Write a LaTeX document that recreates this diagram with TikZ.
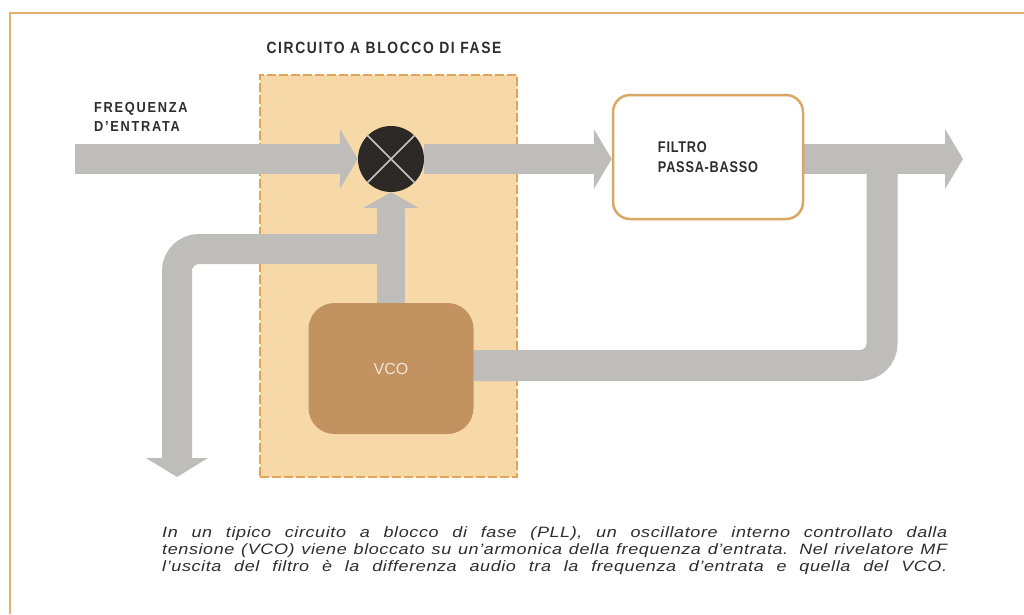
\documentclass[tikz,border=0pt]{standalone}
\usepackage{fontspec}
\setmainfont{Liberation Sans}
\newfontfamily\titlefont{Liberation Sans}[FakeStretch=0.85,LetterSpace=10]
\newfontfamily\lblfont{Liberation Sans}[FakeStretch=0.88,LetterSpace=12]
\newfontfamily\filtfont{Liberation Sans}[FakeStretch=0.82,LetterSpace=5]
\newfontfamily\capfont{Liberation Sans}[FakeStretch=1.2,LetterSpace=4]
\usetikzlibrary{arrows.meta,backgrounds}
\definecolor{grayband}{RGB}{190,189,186}
\definecolor{beige}{RGB}{247,217,168}
\definecolor{dashor}{RGB}{226,164,90}
\definecolor{vcobrown}{RGB}{194,146,96}
\definecolor{framec}{RGB}{226,176,112}
\definecolor{filtc}{RGB}{216,168,100}
\definecolor{darkc}{RGB}{43,40,38}
\definecolor{txtc}{RGB}{45,45,45}
\definecolor{xline}{RGB}{200,198,195}
\begin{document}
\begin{tikzpicture}[x=1pt,y=-1pt,
  band/.style={draw=grayband,line width=30pt},
  fatarrow/.style={band,-{Triangle[length=18pt,width=60pt,line width=0pt]}},
  lbl/.style={text=txtc,font=\lblfont\bfseries\fontsize{14.5}{19}\selectfont,inner sep=0pt},
  capline/.style={text=txtc,font=\capfont\itshape\fontsize{15}{17}\selectfont,inner sep=0pt,anchor=base west}]
\useasboundingbox (0,0) rectangle (1024,614);
% frame
\draw[framec,line width=2pt] (1024,13) -- (10,13) -- (10,614);
% nodes
\node[text=txtc,inner sep=0pt,anchor=base,font=\titlefont\bfseries\fontsize{16.3}{19}\selectfont] (title) at (384,53) {CIRCUITO A BLOCCO DI FASE};
\node[lbl,anchor=north west,align=left] (inlbl) at (94,102) {FREQUENZA\\D’ENTRATA};
\node[circle,fill=darkc,minimum size=66pt,inner sep=0pt] (mixer) at (391,159) {};
\draw[xline,line width=1.6pt] (mixer.north west) -- (mixer.south east) (mixer.north east) -- (mixer.south west);
\node[draw=filtc,line width=2.5pt,fill=white,rounded corners=17pt,minimum width=190pt,minimum height=124pt,align=left,text=txtc,font=\filtfont\bfseries\fontsize{15.5}{20}\selectfont] (filter) at (708,157) {FILTRO\\PASSA-BASSO};
\node[fill=vcobrown,rounded corners=26pt,minimum width=165pt,minimum height=131pt,text={rgb,255:red,243;green,230;blue,214},font=\fontsize{16}{19}\selectfont] (vco) at (391,368.5) {VCO};
\coordinate (in) at (75,159);
\coordinate (out) at (963,159);
\coordinate (br) at (882,159);
\coordinate (jl) at (391,249);
\coordinate (dn) at (177,477);
\begin{scope}[on background layer]
  \node[fill=beige,draw=dashor,line width=1.3pt,dash pattern=on 9pt off 3pt,minimum width=257pt,minimum height=402pt,inner sep=0pt] (block) at (388.5,276) {};
  \draw[fatarrow] (in) -- (mixer.west);
  \draw[fatarrow] (mixer.east) -- (mixer.east -| filter.west);
  \draw[fatarrow] (filter.east |- mixer.east) -- (out);
  \draw[band,line width=31pt,rounded corners=22pt] (br) |- ([yshift=3pt]vco.east);
  \draw[band,line width=30pt,rounded corners=22pt,-{Triangle[length=19pt,width=62pt,line width=0pt]}] (jl) -| (dn);
  \draw[band,line width=28pt,-{Triangle[length=16pt,width=56pt,line width=0pt]}] (vco.north) -- (mixer.south);
\end{scope}
% caption
\node[capline] (cap1) at (162,537) {\makebox[785pt][s]{In un tipico circuito a blocco di fase (PLL), un oscillatore interno controllato dalla}};
\node[capline] (cap2) at (162,554) {\makebox[785pt][s]{tensione (VCO) viene bloccato su un’armonica della frequenza d’entrata. Nel rivelatore MF}};
\node[capline] (cap3) at (162,571) {\makebox[785pt][s]{l’uscita del filtro è la differenza audio tra la frequenza d’entrata e quella del VCO.}};
\end{tikzpicture}
\end{document}
